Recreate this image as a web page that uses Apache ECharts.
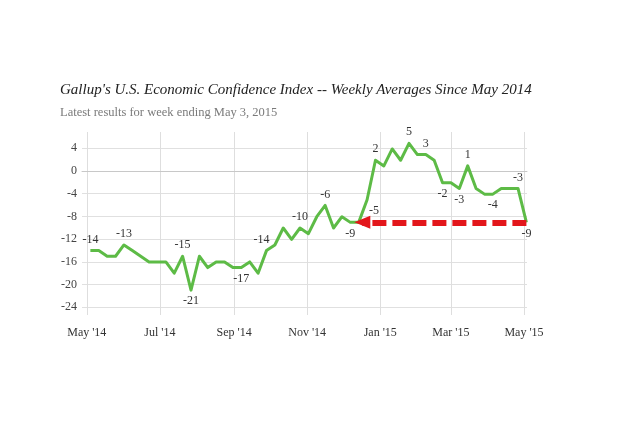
<!DOCTYPE html>
<html><head><meta charset="utf-8">
<script src="https://cdn.jsdelivr.net/npm/echarts@6/dist/echarts.min.js"></script>
<style>html,body{margin:0;padding:0;background:#fff}#c{width:640px;height:442px}</style>
</head><body><div id="c"></div>
<script>
// Week-ending dates (weekly, May 2014 – May 2015)
const WEEK_ENDING = [
  '2014-05-04','2014-05-11','2014-05-18','2014-05-25',
  '2014-06-01','2014-06-08','2014-06-15','2014-06-22','2014-06-29',
  '2014-07-06','2014-07-13','2014-07-20','2014-07-27',
  '2014-08-03','2014-08-10','2014-08-17','2014-08-24','2014-08-31',
  '2014-09-07','2014-09-14','2014-09-21','2014-09-28',
  '2014-10-05','2014-10-12','2014-10-19','2014-10-26',
  '2014-11-02','2014-11-09','2014-11-16','2014-11-23','2014-11-30',
  '2014-12-07','2014-12-14','2014-12-21','2014-12-28',
  '2015-01-04','2015-01-11','2015-01-18','2015-01-25',
  '2015-02-01','2015-02-08','2015-02-15','2015-02-22',
  '2015-03-01','2015-03-08','2015-03-15','2015-03-22','2015-03-29',
  '2015-04-05','2015-04-12','2015-04-19','2015-04-26',
  '2015-05-03'
];
// Economic Confidence Index values
const ECI = [
  -14,-14,-15,-15,
  -13,-14,-15,-16,-16,
  -16,-18,-15,-21,
  -15,-17,-16,-16,-17,
  -17,-16,-18,-14,
  -13,-10,-12,-10,
  -11,-8,-6,-10,-8,
  -9,-9,-5,2,
  1,4,2,5,
  3,3,2,-2,
  -2,-3,1,-3,-4,
  -4,-3,-3,-3,
  -9
];
// Which points carry a value label, and where
const LABEL_PLACE = {0:'top',4:'top',11:'top',12:'bottom',18:'bottom',21:'top',25:'top',28:'top',
  31:'bottom',33:'bottom',34:'top',38:'top',40:'top',42:'bottom',44:'bottom',45:'top',48:'bottom',51:'top',52:'bottom'};
const LABEL_SHIFT = {21:[-5,0],33:[7,0]};
// Axis ticks
const X_TICKS = ['2014-05-01','2014-07-01','2014-09-01','2014-11-01','2015-01-01','2015-03-01','2015-05-01'];
const X_TICK_LABELS = ["May '14","Jul '14","Sep '14","Nov '14","Jan '15","Mar '15","May '15"];
const Y_TICKS = [-24,-20,-16,-12,-8,-4,0,4];
// Arrow annotation (back to the December level)
const ARROW_FROM = '2015-05-03';
const ARROW_TO = '2014-12-17';
const ARROW_LEVEL = -9;

const TITLE = "Gallup's U.S. Economic Confidence Index -- Weekly Averages Since May 2014";
const SUBTITLE = 'Latest results for week ending May 3, 2015';

function ts(s){ const p = s.split('-').map(Number); return Date.UTC(p[0], p[1]-1, p[2]); }
const X_TICK_TS = X_TICKS.map(ts);

const SERIF = "'Liberation Serif', 'DejaVu Serif', serif";
const seriesData = WEEK_ENDING.map((d, i) => {
  const item = { value: [ts(d), ECI[i]] };
  if (LABEL_PLACE[i]) {
    item.label = { show: true, position: LABEL_PLACE[i], distance: 5, offset: LABEL_SHIFT[i] || [0,0] };
  }
  return item;
});

const chart = echarts.init(document.getElementById('c'), null, {renderer: 'canvas'});
chart.setOption({
  animation: false,
  backgroundColor: '#fff',
  title: [
    { text: TITLE, left: 60, top: 83, padding: 0,
      textStyle: { fontFamily: SERIF, fontStyle: 'italic', fontWeight: 'normal', fontSize: 15, color: '#222' } },
    { text: SUBTITLE, left: 60, top: 106, padding: 0,
      textStyle: { fontFamily: SERIF, fontWeight: 'normal', fontSize: 12.5, color: '#7a7a7a' } }
  ],
  grid: [
    { left: 82, right: 113, top: 132, bottom: 127 },
    { left: 82, right: 113, top: 148.3, bottom: 134.7 }
  ],
  xAxis: [
    { type: 'value', gridIndex: 0, scale: true,
      min: ts('2014-04-27'), max: ts('2015-05-03') + 12*3600*1000,
      axisLine: { show: true, lineStyle: { color: '#c8c8c8', width: 1 } },
      axisTick: { show: false, customValues: X_TICK_TS },
      splitLine: { show: true, lineStyle: { color: '#dedede', width: 1 } },
      axisLabel: { customValues: X_TICK_TS, margin: 12, fontFamily: SERIF, fontSize: 12, color: '#333',
        showMinLabel: true, showMaxLabel: true,
        formatter: (v) => { const i = X_TICK_TS.indexOf(v); return i >= 0 ? X_TICK_LABELS[i] : ''; } }
    },
    { type: 'value', gridIndex: 1, show: false, min: 0, max: 1 }
  ],
  yAxis: [
    { type: 'value', gridIndex: 0, min: -25.4, max: 7, show: false },
    { type: 'value', gridIndex: 1, min: Y_TICKS[0], max: Y_TICKS[Y_TICKS.length-1], interval: 4,
      axisLine: { show: false }, axisTick: { show: false },
      axisLabel: { margin: 5, fontFamily: SERIF, fontSize: 12, color: '#444' },
      splitLine: { show: true, lineStyle: { width: 1,
        color: Y_TICKS.map(v => v === 0 ? '#bcbcbc' : '#e0e0e0') } }
    }
  ],
  series: [
    { type: 'line', xAxisIndex: 0, yAxisIndex: 0, data: seriesData,
      symbol: 'circle', symbolSize: 0.1, showSymbol: true,
      itemStyle: { color: 'rgba(0,0,0,0)' },
      lineStyle: { color: '#5dbb46', width: 3, join: 'round' },
      label: { show: false, fontFamily: SERIF, fontSize: 12, color: '#333' },
      z: 3,
      markLine: {
        silent: true, symbol: ['none', 'triangle'], symbolSize: [13, 16],
        label: { show: false },
        lineStyle: { color: '#e3161b', width: 6, type: [14, 6], cap: 'butt' },
        itemStyle: { color: '#e3161b' },
        data: [[ { coord: [ts(ARROW_FROM), ARROW_LEVEL] }, { coord: [ts(ARROW_TO), ARROW_LEVEL] } ]]
      }
    }
  ]
});
</script></body></html>
